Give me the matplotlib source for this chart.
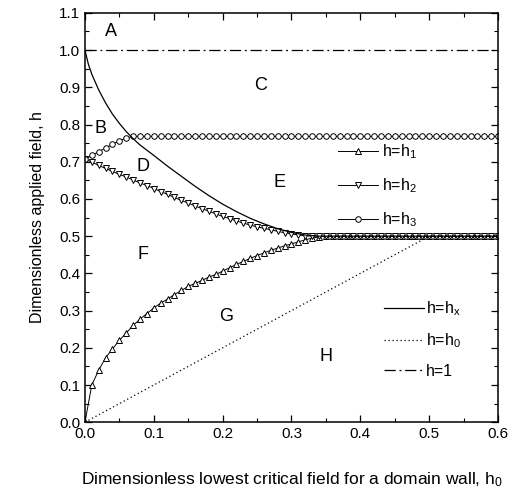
import numpy as np
import matplotlib
matplotlib.use('Agg')
import matplotlib.pyplot as plt
from matplotlib.ticker import MultipleLocator

plt.rcParams['font.family'] = ['Liberation Sans', 'DejaVu Sans']
plt.rcParams['mathtext.fontset'] = 'custom'
plt.rcParams['mathtext.rm'] = 'Liberation Sans'
plt.rcParams['mathtext.it'] = 'Liberation Sans'

# h0 grid, one point every 0.01
h0 = np.round(np.arange(0, 61) / 100, 2)

# h = h1 (up triangles)
h1_vals = [0.0, 0.100, 0.140, 0.173, 0.197, 0.220, 0.240, 0.260, 0.277, 0.292,
           0.307, 0.320, 0.331, 0.343, 0.354, 0.365, 0.373, 0.381, 0.390, 0.397,
           0.406, 0.415, 0.424, 0.432, 0.440, 0.448, 0.455, 0.462, 0.468, 0.474,
           0.479, 0.485, 0.490, 0.495, 0.498] + [0.5] * 26

# h = h2 (down triangles)
h2_vals = [0.707, 0.699, 0.690, 0.682, 0.674, 0.666, 0.659, 0.651, 0.643, 0.636,
           0.628, 0.620, 0.612, 0.604, 0.596, 0.589, 0.581, 0.574, 0.567, 0.560,
           0.553, 0.547, 0.541, 0.535, 0.530, 0.525, 0.521, 0.517, 0.513, 0.509,
           0.506, 0.503, 0.501, 0.500] + [0.5] * 27

# h = h3 (circles)
h3_vals = [0.707, 0.717, 0.727, 0.737, 0.747, 0.756, 0.764, 0.768] + [0.768] * 53

# h = hx (solid)
hx_x = [0.0, 0.005, 0.01, 0.02, 0.03, 0.04, 0.05, 0.06, 0.07, 0.08, 0.10, 0.12,
        0.14, 0.16, 0.18, 0.20, 0.22, 0.24, 0.26, 0.28, 0.30, 0.32, 0.34, 0.6]
hx_y = [1.0, 0.962, 0.935, 0.893, 0.858, 0.828, 0.803, 0.781, 0.762, 0.745, 0.717, 0.688,
        0.661, 0.634, 0.609, 0.586, 0.566, 0.548, 0.533, 0.520, 0.510, 0.503, 0.500, 0.500]

# h = h0 (dotted)
h0_line_x = [0.0, 0.5, 0.6]
h0_line_y = [0.0, 0.5, 0.5]

region_labels = ['A', 'B', 'C', 'D', 'E', 'F', 'G', 'H']
region_x = [0.038, 0.022, 0.255, 0.085, 0.283, 0.085, 0.205, 0.35]
region_y = [1.05, 0.79, 0.905, 0.686, 0.645, 0.45, 0.285, 0.176]

fig = plt.figure(figsize=(5.21, 4.95), dpi=100)
ax = fig.add_axes([0.163, 0.147, 0.793, 0.827])

mk = dict(markersize=4, markerfacecolor='white', markeredgecolor='black',
          markeredgewidth=0.7, color='black', linewidth=0.7)
l1, = ax.plot(h0, h1_vals, marker='^', label='h=h$_1$', **mk)
l2, = ax.plot(h0, h2_vals, marker='v', label='h=h$_2$', **mk)
l3, = ax.plot(h0, h3_vals, marker='o', label='h=h$_3$', **mk)

lx, = ax.plot(hx_x, hx_y, color='black', linewidth=0.9, label='h=h$_x$')
lh0, = ax.plot(h0_line_x, h0_line_y, color='black', linewidth=0.9,
               linestyle=(0, (1, 2.2)), label='h=h$_0$')
lone, = ax.plot([0, 0.6], [1.0, 1.0], color='black', linewidth=0.9,
                linestyle=(0, (9, 3, 1.5, 3)), label='h=1')

for lab, x, y in zip(region_labels, region_x, region_y):
    ax.text(x, y, lab, fontsize=13, ha='center', va='center')

leg1 = ax.legend(handles=[l1, l2, l3], loc='upper left', bbox_to_anchor=(0.367, 0.752),
                 bbox_transform=ax.transData, frameon=False, fontsize=11.5,
                 handlelength=2.5, handletextpad=0.3, labelspacing=0.95,
                 borderpad=0, borderaxespad=0, numpoints=1)
ax.add_artist(leg1)
ax.legend(handles=[lx, lh0, lone], loc='upper left', bbox_to_anchor=(0.435, 0.33),
          bbox_transform=ax.transData, frameon=False, fontsize=11.5,
          handlelength=2.5, handletextpad=0.1, labelspacing=0.85,
          borderpad=0, borderaxespad=0)

ax.set_xlim(0, 0.6)
ax.set_ylim(0, 1.1)
ax.xaxis.set_major_locator(MultipleLocator(0.1))
ax.xaxis.set_minor_locator(MultipleLocator(0.05))
ax.yaxis.set_major_locator(MultipleLocator(0.1))
ax.yaxis.set_minor_locator(MultipleLocator(0.05))
ax.xaxis.set_major_formatter(plt.FormatStrFormatter('%.1f'))
ax.yaxis.set_major_formatter(plt.FormatStrFormatter('%.1f'))
ax.tick_params(which='both', direction='in', top=True, right=True, labelsize=11)
ax.tick_params(which='major', length=5, width=0.9)
ax.tick_params(which='minor', length=3, width=0.8)
for s in ax.spines.values():
    s.set_linewidth(1.1)

ax.set_xlabel('Dimensionless lowest critical field for a domain wall, h$_0$',
              fontsize=12.5, labelpad=21)
ax.set_ylabel('Dimensionless applied field, h', fontsize=11.5, labelpad=10)

fig.savefig('out.png', dpi=100)
